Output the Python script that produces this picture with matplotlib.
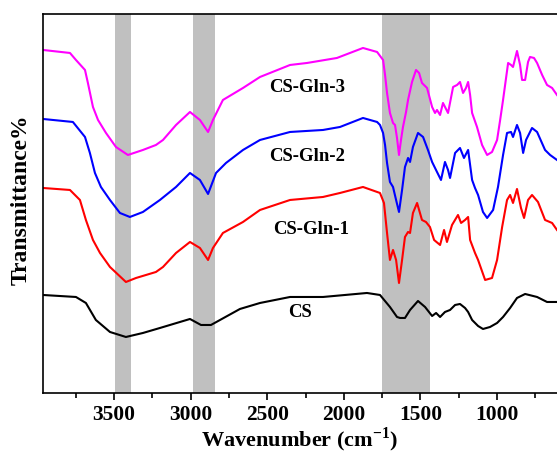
import matplotlib
matplotlib.use("Agg")
import matplotlib.pyplot as plt
from matplotlib.ticker import MultipleLocator

plt.rcParams['font.family'] = ['Liberation Serif', 'DejaVu Serif']
plt.rcParams['font.weight'] = 'bold'
plt.rcParams['mathtext.fontset'] = 'custom'
plt.rcParams['mathtext.rm'] = 'Liberation Serif:bold'
plt.rcParams['mathtext.bf'] = 'Liberation Serif:bold'

# FTIR spectra (wavenumber in cm-1, transmittance in arbitrary offset units)
wn_cs = [3963, 3748, 3683, 3618, 3526, 3422, 3311, 3200, 3004, 2932, 2867, 2808,
         2678, 2547, 2351, 2136, 1849, 1764, 1699, 1653, 1633, 1601, 1568, 1516,
         1470, 1424, 1398, 1372, 1340, 1307, 1274, 1242, 1209, 1189, 1163, 1124,
         1092, 1046, 1000, 961, 915, 870, 817, 739, 674, 609]
t_cs = [98, 96, 90, 73, 61, 56, 60, 65, 74, 68, 68, 73,
        84, 90, 96, 96, 100, 98, 86, 76, 75, 75, 83, 92,
        86, 77, 80, 76, 81, 83, 88, 89, 85, 81, 73, 67,
        64, 66, 70, 76, 85, 95, 99, 96, 91, 91]

wn_gln1 = [3963, 3787, 3722, 3683, 3637, 3591, 3526, 3422, 3356, 3226, 3180, 3095,
           3004, 2939, 2886, 2854, 2789, 2658, 2547, 2351, 2136, 2025, 1875, 1764,
           1738, 1718, 1699, 1679, 1659, 1640, 1620, 1601, 1581, 1568, 1549, 1522,
           1490, 1464, 1438, 1411, 1372, 1346, 1327, 1294, 1255, 1235, 1209, 1189,
           1176, 1144, 1124, 1078, 1033, 1000, 967, 935, 915, 896, 870, 844,
           824, 798, 772, 733, 687, 641, 609]
t_gln1 = [205, 203, 193, 173, 153, 140, 126, 111, 115, 121, 126, 140,
          151, 145, 133, 145, 160, 171, 183, 193, 196, 200, 206, 200,
          190, 160, 133, 143, 133, 110, 133, 156, 161, 160, 180, 190,
          173, 171, 166, 153, 148, 163, 151, 168, 178, 170, 173, 176,
          153, 140, 133, 113, 115, 133, 166, 193, 198, 190, 204, 185,
          175, 193, 198, 191, 173, 170, 163]

wn_gln2 = [3963, 3768, 3689, 3657, 3624, 3585, 3526, 3461, 3396, 3311, 3200, 3095,
           3004, 2939, 2886, 2834, 2769, 2658, 2547, 2351, 2136, 2025, 1875, 1783,
           1764, 1744, 1731, 1718, 1699, 1679, 1659, 1640, 1620, 1601, 1581, 1568,
           1549, 1516, 1483, 1451, 1424, 1392, 1366, 1340, 1320, 1307, 1274, 1242,
           1216, 1189, 1163, 1144, 1124, 1092, 1065, 1026, 994, 961, 935, 909,
           896, 870, 850, 830, 811, 772, 739, 687, 654, 609]
t_gln2 = [274, 271, 256, 240, 220, 206, 193, 180, 176, 181, 193, 206,
          220, 213, 199, 220, 230, 243, 253, 261, 263, 266, 275, 271,
          268, 260, 248, 230, 211, 206, 193, 181, 203, 226, 235, 231,
          246, 260, 256, 243, 231, 221, 213, 231, 223, 215, 240, 245,
          235, 243, 213, 205, 198, 181, 175, 183, 206, 238, 260, 261,
          256, 268, 260, 240, 253, 265, 261, 243, 238, 233]

wn_gln3 = [3963, 3787, 3748, 3689, 3670, 3637, 3604, 3552, 3487, 3409, 3311, 3226,
           3180, 3095, 3004, 2939, 2886, 2854, 2789, 2658, 2547, 2351, 2240, 2045,
           1875, 1783, 1744, 1731, 1718, 1699, 1679, 1666, 1653, 1640, 1627, 1614,
           1594, 1581, 1555, 1529, 1509, 1490, 1457, 1424, 1405, 1392, 1372, 1353,
           1320, 1287, 1261, 1242, 1222, 1203, 1189, 1176, 1163, 1131, 1098, 1065,
           1033, 1000, 980, 961, 928, 909, 896, 870, 850, 837, 817, 798,
           785, 759, 739, 706, 674, 641, 609]
t_gln3 = [343, 340, 333, 323, 310, 286, 273, 260, 246, 238, 243, 248,
          253, 268, 281, 273, 261, 273, 293, 305, 316, 328, 330, 335,
          345, 341, 333, 318, 300, 280, 270, 268, 255, 238, 253, 266,
          281, 293, 311, 323, 320, 310, 305, 286, 280, 283, 278, 290,
          280, 306, 308, 311, 300, 305, 311, 298, 280, 266, 248, 238,
          241, 253, 273, 293, 330, 328, 326, 342, 328, 313, 313, 331,
          336, 335, 330, 318, 308, 305, 298]

# shaded absorption regions (cm-1)
bands = [(3490, 3390), (2985, 2840), (1750, 1440)]

series = [(wn_gln3, t_gln3, '#ff00ff'), (wn_gln2, t_gln2, '#0000ff'),
          (wn_gln1, t_gln1, '#ff0000'), (wn_cs, t_cs, '#000000')]
labels = ['CS-Gln-3', 'CS-Gln-2', 'CS-Gln-1', 'CS']
label_pos = [(2240, 305), (2240, 236), (2214, 163), (2286, 80)]

fig = plt.figure(figsize=(5.57, 4.55), dpi=100)
ax = fig.add_axes([0.0772, 0.1363, 0.9228, 0.8330])

for lo, hi in bands:
    ax.axvspan(hi, lo, color='#c0c0c0', lw=0, zorder=0)

for wn, t, c in series:
    ax.plot(wn, t, color=c, lw=1.5, zorder=2)

for (x, y), s in zip(label_pos, labels):
    ax.text(x, y, s, fontsize=13.5, fontweight='bold', ha='center', va='center')

ax.set_xlim(3963, 609)
ax.set_ylim(0, 379)
ax.xaxis.set_major_locator(MultipleLocator(500))
ax.xaxis.set_minor_locator(MultipleLocator(250))
ax.set_yticks([])
ax.tick_params(axis='x', which='major', direction='out', length=5, width=1.2,
               labelsize=15.5, pad=4)
ax.tick_params(axis='x', which='minor', direction='out', length=3.5, width=1.2)
for lbl in ax.get_xticklabels():
    lbl.set_fontweight('bold')
ax.spines['right'].set_visible(False)
for sp in ['left', 'top', 'bottom']:
    ax.spines[sp].set_linewidth(1.2)

ax.set_xlabel(r'Wavenumber (cm$^{-1}$)', fontsize=16, fontweight='bold', labelpad=0)
ax.set_ylabel('Transmittance%', fontsize=17, fontweight='bold')
ax.yaxis.set_label_coords(-0.022, 0.51)

fig.savefig('out.png', dpi=100)
